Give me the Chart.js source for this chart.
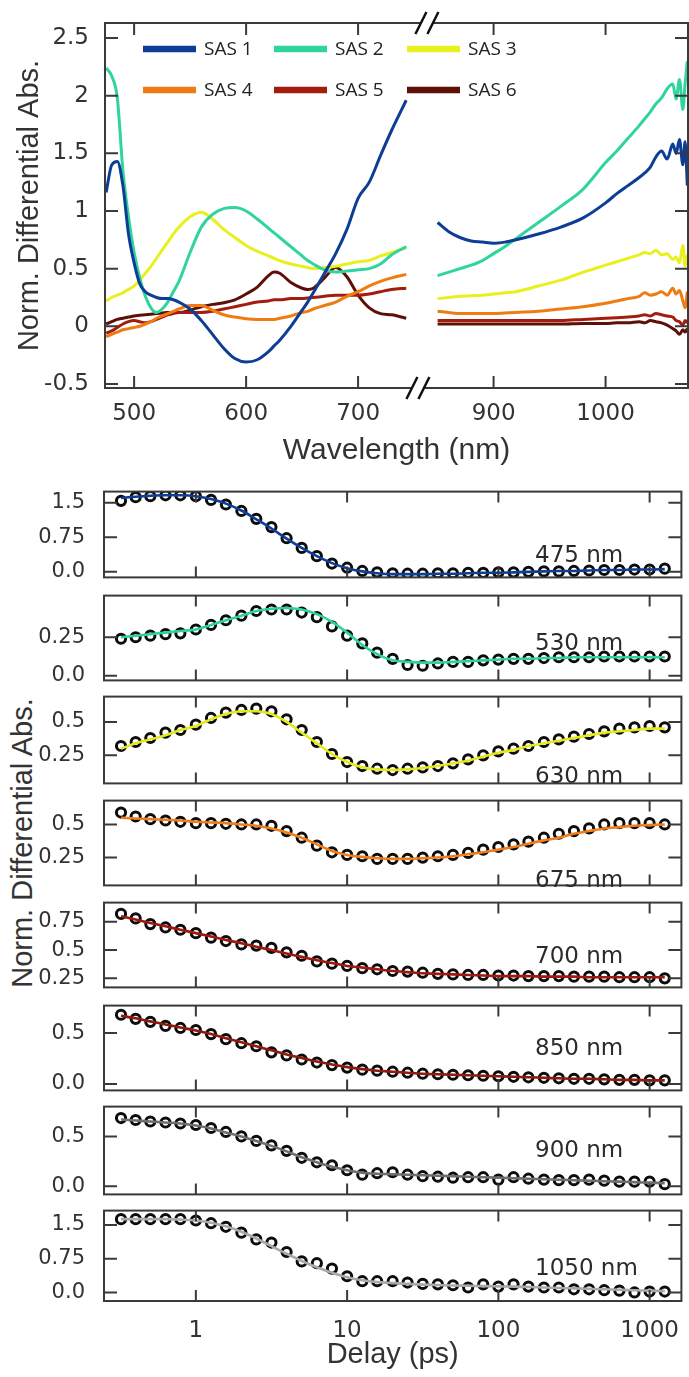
<!DOCTYPE html>
<html>
<head>
<meta charset="utf-8">
<script src="https://cdn.jsdelivr.net/npm/chart.js@4.4.1/dist/chart.umd.min.js"></script>
<style>
  html, body { margin: 0; padding: 0; background: #fff; }
  #wrap { position: relative; width: 689px; height: 1377px; overflow: hidden; }
  #wrap canvas { position: absolute; left: 0; }
  #ytitle2 {
    position: absolute; left: 22px; top: 843px;
    transform: translate(-50%, -50%) rotate(-90deg);
    font: 29px "Liberation Sans", Arial, sans-serif; color: #333; white-space: nowrap;
  }
</style>
</head>
<body>
<div id="wrap">
  <canvas id="spectra" width="689" height="475" style="top:0px"></canvas>
  <div id="ytitle2">Norm. Differential Abs.</div>
</div>
<script>
// ---- species associated spectra (top panel) ----
const wavelengths = [475,480,485,490,495,500,505,510,515,520,525,530,535,540,550,560,570,580,590,600,610,620,625,630,640,650,655,660,670,680,690,700,710,720,730,743,
                     850,860,870,880,890,900,910,920,940,960,980,1000,1010,1020,1030,1035,1040,1045,1050,1055,1060,1063,1066,1069,1071,1073];
const sasLabels = ['SAS 1', 'SAS 2', 'SAS 3', 'SAS 4', 'SAS 5', 'SAS 6'];
const sas1 = [1.16,1.40,1.43,1.22,0.80,0.55,0.37,0.30,0.27,0.25,0.24,0.24,0.23,0.21,0.15,0.05,-0.07,-0.19,-0.28,-0.31,-0.29,-0.22,-0.17,-0.12,0.0,0.14,0.21,0.29,0.46,0.63,0.84,1.11,1.25,1.48,1.70,1.96,
              0.90,0.82,0.77,0.74,0.73,0.72,0.73,0.75,0.80,0.86,0.94,1.07,1.15,1.22,1.29,1.33,1.38,1.47,1.52,1.45,1.58,1.50,1.62,1.40,1.60,1.22];
const sas2 = [2.24,2.17,1.98,1.35,0.95,0.64,0.42,0.26,0.16,0.12,0.15,0.21,0.30,0.39,0.64,0.86,0.97,1.02,1.03,1.00,0.93,0.85,0.81,0.77,0.69,0.61,0.57,0.54,0.49,0.47,0.48,0.49,0.50,0.54,0.62,0.69,
              0.44,0.47,0.50,0.53,0.57,0.63,0.69,0.76,0.90,1.04,1.19,1.42,1.52,1.63,1.74,1.80,1.86,1.93,1.98,2.06,2.10,1.97,2.14,1.88,2.10,2.30];
const sas3 = [0.22,0.25,0.27,0.29,0.32,0.35,0.40,0.46,0.52,0.59,0.66,0.73,0.80,0.86,0.95,0.99,0.93,0.84,0.77,0.70,0.65,0.61,0.59,0.57,0.54,0.52,0.51,0.50,0.51,0.52,0.54,0.56,0.57,0.61,0.64,0.68,
              0.24,0.25,0.26,0.265,0.27,0.28,0.29,0.30,0.35,0.40,0.47,0.53,0.56,0.59,0.62,0.64,0.63,0.66,0.62,0.63,0.58,0.60,0.55,0.70,0.52,0.62];
const sas4 = [-0.09,-0.07,-0.05,-0.03,-0.02,-0.01,0.0,0.02,0.04,0.07,0.09,0.11,0.13,0.15,0.18,0.18,0.14,0.10,0.08,0.065,0.06,0.06,0.06,0.07,0.09,0.12,0.13,0.15,0.18,0.21,0.26,0.30,0.35,0.39,0.42,0.45,
              0.13,0.12,0.11,0.11,0.11,0.11,0.115,0.12,0.13,0.15,0.17,0.20,0.22,0.24,0.26,0.29,0.27,0.28,0.30,0.27,0.33,0.28,0.31,0.22,0.16,0.30];
const sas5 = [-0.06,-0.04,-0.01,0.02,0.04,0.05,0.04,0.03,0.04,0.06,0.08,0.10,0.11,0.12,0.12,0.12,0.13,0.15,0.17,0.19,0.21,0.22,0.23,0.23,0.24,0.24,0.245,0.25,0.26,0.27,0.27,0.27,0.28,0.30,0.32,0.33,
              0.05,0.05,0.05,0.05,0.05,0.05,0.05,0.05,0.05,0.05,0.06,0.07,0.075,0.08,0.09,0.10,0.09,0.11,0.10,0.09,0.08,0.05,0.04,0.01,0.05,0.03];
const sas6 = [0.02,0.04,0.06,0.07,0.08,0.09,0.095,0.10,0.105,0.11,0.115,0.12,0.12,0.12,0.14,0.17,0.19,0.205,0.23,0.28,0.34,0.44,0.47,0.46,0.38,0.33,0.32,0.33,0.42,0.51,0.43,0.27,0.16,0.11,0.10,0.07,
              0.02,0.02,0.02,0.02,0.02,0.02,0.02,0.02,0.02,0.02,0.025,0.025,0.03,0.03,0.04,0.03,0.05,0.04,0.03,0.01,-0.02,-0.04,-0.07,-0.03,-0.05,-0.02];
const nmTicks = [500, 600, 700, 900, 1000];
const sasTicks = [-0.5, 0, 0.5, 1, 1.5, 2, 2.5];

// ---- kinetic traces (bottom panels) ----
const delays = [0.32,0.4,0.5,0.63,0.79,1,1.26,1.58,2,2.51,3.16,3.98,5.01,6.31,7.94,10,12.6,15.8,20,25.1,31.6,39.8,50.1,63.1,79.4,100,126,158,200,251,316,398,501,631,794,1000,1259];
const delayTicks = [1, 10, 100, 1000];
const kin475 = [1.54,1.62,1.64,1.66,1.66,1.64,1.56,1.46,1.32,1.15,0.97,0.73,0.52,0.34,0.18,0.09,0.02,-0.01,-0.03,-0.04,-0.04,-0.03,-0.03,-0.02,-0.02,-0.01,-0.01,0,0.01,0.01,0.02,0.03,0.04,0.04,0.05,0.05,0.07];
const fit475 = [1.60,1.63,1.65,1.66,1.66,1.64,1.58,1.48,1.33,1.14,0.94,0.72,0.52,0.34,0.19,0.08,0.01,-0.03,-0.05,-0.05,-0.05,-0.04,-0.04,-0.03,-0.02,-0.02,-0.01,0,0.01,0.02,0.02,0.03,0.04,0.04,0.05,0.05,0.06];
const kin530 = [0.24,0.25,0.26,0.27,0.275,0.30,0.33,0.36,0.39,0.42,0.43,0.43,0.41,0.38,0.32,0.26,0.21,0.15,0.11,0.07,0.065,0.08,0.09,0.09,0.10,0.105,0.11,0.11,0.115,0.12,0.12,0.12,0.125,0.125,0.125,0.125,0.125];
const fit530 = [0.25,0.26,0.27,0.28,0.29,0.30,0.33,0.36,0.39,0.42,0.435,0.44,0.43,0.40,0.35,0.28,0.20,0.14,0.10,0.09,0.085,0.085,0.09,0.095,0.10,0.105,0.11,0.11,0.115,0.115,0.12,0.12,0.12,0.12,0.12,0.12,0.12];
const kin630 = [0.32,0.35,0.38,0.42,0.44,0.48,0.53,0.57,0.59,0.60,0.58,0.52,0.44,0.35,0.26,0.20,0.17,0.15,0.14,0.15,0.16,0.17,0.19,0.22,0.25,0.28,0.30,0.32,0.35,0.37,0.39,0.41,0.43,0.45,0.46,0.47,0.46];
const fit630 = [0.30,0.34,0.37,0.40,0.44,0.47,0.52,0.56,0.58,0.58,0.56,0.50,0.42,0.34,0.26,0.20,0.16,0.145,0.14,0.145,0.155,0.17,0.19,0.21,0.24,0.27,0.29,0.32,0.34,0.36,0.38,0.40,0.42,0.43,0.44,0.45,0.45];
const kin675 = [0.59,0.56,0.54,0.53,0.52,0.51,0.51,0.505,0.50,0.50,0.49,0.45,0.40,0.34,0.29,0.27,0.26,0.24,0.24,0.24,0.25,0.26,0.27,0.285,0.31,0.33,0.35,0.37,0.40,0.43,0.45,0.47,0.50,0.51,0.51,0.51,0.50];
const fit675 = [0.55,0.545,0.54,0.535,0.53,0.52,0.515,0.51,0.50,0.49,0.47,0.44,0.40,0.35,0.30,0.27,0.255,0.245,0.24,0.24,0.245,0.25,0.26,0.275,0.29,0.31,0.33,0.355,0.38,0.40,0.43,0.45,0.47,0.48,0.49,0.495,0.50];
const kin700 = [0.82,0.78,0.73,0.70,0.68,0.65,0.61,0.58,0.55,0.54,0.52,0.48,0.45,0.40,0.38,0.36,0.34,0.33,0.315,0.31,0.30,0.29,0.285,0.28,0.28,0.275,0.275,0.27,0.27,0.27,0.265,0.265,0.265,0.26,0.26,0.26,0.25];
const fit700 = [0.80,0.77,0.74,0.71,0.68,0.65,0.62,0.59,0.56,0.53,0.50,0.47,0.44,0.41,0.385,0.36,0.345,0.33,0.315,0.305,0.295,0.29,0.285,0.28,0.275,0.27,0.27,0.27,0.265,0.265,0.265,0.26,0.26,0.26,0.26,0.26,0.26];
const kin850 = [0.68,0.64,0.61,0.57,0.55,0.53,0.49,0.44,0.40,0.37,0.31,0.28,0.24,0.21,0.185,0.16,0.14,0.13,0.12,0.11,0.10,0.095,0.09,0.085,0.08,0.075,0.07,0.065,0.06,0.055,0.05,0.05,0.045,0.04,0.04,0.035,0.035];
const fit850 = [0.67,0.645,0.615,0.585,0.555,0.525,0.49,0.45,0.41,0.37,0.33,0.29,0.255,0.22,0.19,0.165,0.145,0.13,0.12,0.11,0.10,0.095,0.09,0.085,0.08,0.075,0.07,0.065,0.06,0.055,0.05,0.05,0.045,0.04,0.04,0.035,0.035];
const kin900 = [0.685,0.665,0.65,0.64,0.63,0.615,0.585,0.545,0.50,0.455,0.41,0.355,0.285,0.24,0.21,0.16,0.115,0.13,0.14,0.115,0.10,0.095,0.085,0.09,0.09,0.065,0.09,0.075,0.065,0.06,0.06,0.065,0.055,0.045,0.045,0.045,0.02];
const fit900 = [0.67,0.66,0.65,0.64,0.63,0.61,0.58,0.54,0.50,0.455,0.405,0.35,0.29,0.24,0.195,0.16,0.135,0.125,0.12,0.115,0.11,0.105,0.10,0.095,0.09,0.085,0.08,0.075,0.07,0.065,0.06,0.055,0.05,0.045,0.04,0.035,0.03];
const kin1050 = [1.63,1.63,1.63,1.63,1.63,1.60,1.54,1.46,1.33,1.18,1.11,0.90,0.69,0.65,0.53,0.36,0.25,0.25,0.25,0.22,0.19,0.18,0.16,0.11,0.18,0.13,0.18,0.13,0.11,0.11,0.07,0.07,0.05,0.04,0.0,0.02,0.02];
const fit1050 = [1.63,1.63,1.63,1.63,1.62,1.60,1.55,1.47,1.35,1.20,1.03,0.86,0.70,0.56,0.44,0.34,0.27,0.23,0.21,0.19,0.175,0.165,0.155,0.15,0.14,0.135,0.13,0.12,0.11,0.10,0.09,0.08,0.07,0.06,0.05,0.04,0.03];

const FRAME = '#3a3a3a';
const TXT = '#333';
Chart.defaults.font.family = '"DejaVu Sans", sans-serif';

// draws the box round the plot and the inward tick marks
const frame = {
  id: 'frame',
  afterDatasetsDraw(chart, args, o) {
    const {ctx, chartArea: a, scales} = chart;
    ctx.save();
    ctx.strokeStyle = FRAME;
    ctx.lineWidth = 2;
    ctx.strokeRect(a.left, a.top, a.right - a.left, a.bottom - a.top);
    ctx.beginPath();
    o.xTicks.forEach(v => {
      const px = scales.x.getPixelForValue(v);
      ctx.moveTo(px, a.top); ctx.lineTo(px, a.top + o.xLen);
      ctx.moveTo(px, a.bottom); ctx.lineTo(px, a.bottom - o.xLen);
    });
    o.yTicks.forEach(v => {
      const py = scales.y.getPixelForValue(v);
      ctx.moveTo(a.left, py); ctx.lineTo(a.left + o.yLen, py);
      ctx.moveTo(a.right, py); ctx.lineTo(a.right - o.yLen, py);
    });
    ctx.stroke();
    ctx.restore();
  }
};

// the "//" marks where the wavelength axis is cut
const axisBreak = {
  id: 'axisBreak',
  afterDraw(chart, args, o) {
    const {ctx, chartArea: a} = chart;
    const xb = chart.scales.x.getPixelForValue(o.at);
    ctx.save();
    [[a.top, 5], [a.bottom, -4]].forEach(([yy, dx]) => {
      const cx = xb + dx;
      ctx.fillStyle = '#fff';
      ctx.fillRect(cx - 6, yy - 2, 12, 4);
      ctx.strokeStyle = '#111';
      ctx.lineWidth = 2.5;
      ctx.beginPath();
      [-6, 6].forEach(off => {
        ctx.moveTo(cx + off - 5.5, yy + 11);
        ctx.lineTo(cx + off + 5.5, yy - 11);
      });
      ctx.stroke();
    });
    ctx.restore();
  }
};

// legend sitting inside the plot, 3 columns x 2 rows
const legendInside = {
  id: 'legendInside',
  afterDraw(chart, args, o) {
    const ctx = chart.ctx;
    ctx.save();
    ctx.font = '19px "Open Sans", sans-serif';
    ctx.textBaseline = 'middle';
    chart.data.datasets.forEach((ds, i) => {
      const x0 = o.cols[i % 3], y0 = o.rows[Math.floor(i / 3)];
      ctx.strokeStyle = ds.borderColor;
      ctx.lineWidth = 6.5;
      ctx.beginPath(); ctx.moveTo(x0, y0); ctx.lineTo(x0 + 53, y0); ctx.stroke();
      ctx.fillStyle = '#222';
      ctx.fillText(ds.label, x0 + 61, y0 + 1);
    });
    ctx.restore();
  }
};

// "475 nm" etc. inside each kinetic panel
const panelLabel = {
  id: 'panelLabel',
  afterDraw(chart, args, o) {
    const ctx = chart.ctx;
    ctx.save();
    ctx.font = '23px "DejaVu Sans", sans-serif';
    ctx.fillStyle = '#2b2b2b';
    ctx.textBaseline = 'middle';
    ctx.fillText(o.text, 535, chart.chartArea.top + o.dy);
    ctx.restore();
  }
};

// keep the plot box exactly where the figure has it
const noEdgePadding = ax => { ax.paddingTop = 0; ax.paddingBottom = 0; ax.paddingLeft = 0; ax.paddingRight = 0; };

// ---- top chart: two wavelength windows on one axis, the gap cut out ----
const GAP = 79;
const toAxis = wl => wl > 760 ? wl - GAP : wl;
function spectrum(vals) {
  const pts = [];
  wavelengths.forEach((wl, i) => {
    if (i > 0 && wavelengths[i - 1] < 760 && wl > 760) pts.push({x: 757, y: null});
    pts.push({x: toAxis(wl), y: vals[i]});
  });
  return pts;
}
const sasColors = ['#0d3d94', '#2fd59c', '#e8f01e', '#ef7c12', '#a31c0e', '#5c1006'];
const sasValues = [sas1, sas2, sas3, sas4, sas5, sas6];

new Chart(document.getElementById('spectra'), {
  type: 'line',
  data: {
    datasets: sasValues.map((v, i) => ({
      label: sasLabels[i],
      data: spectrum(v),
      borderColor: sasColors[i],
      borderWidth: 3,
      pointRadius: 0,
      cubicInterpolationMode: 'monotone',
      fill: false
    }))
  },
  options: {
    responsive: false,
    animation: false,
    layout: {padding: {top: 23, right: 1, left: 0, bottom: 0}},
    plugins: {
      legend: {display: false},
      tooltip: {enabled: false},
      frame: {xTicks: nmTicks.map(toAxis), yTicks: sasTicks, xLen: 12, yLen: 13},
      axisBreak: {at: 757},
      legendInside: {cols: [143, 274, 407], rows: [49, 90]}
    },
    scales: {
      x: {
        type: 'linear', min: 474, max: 994.6,
        afterBuildTicks: ax => { ax.ticks = nmTicks.map(v => ({value: toAxis(v)})); },
        afterFit: ax => { ax.height = 87; noEdgePadding(ax); },
        grid: {display: false}, border: {display: false},
        ticks: {autoSkip: false, maxRotation: 0, padding: 4, color: TXT, font: {size: 23},
                callback: v => String(v > 760 ? v + GAP : v)},
        title: {display: true, text: 'Wavelength (nm)', color: TXT,
                font: {family: '"Liberation Sans", Arial, sans-serif', size: 30},
                padding: {top: 0, bottom: 6}}
      },
      y: {
        min: -0.535, max: 2.63,
        afterBuildTicks: ax => { ax.ticks = sasTicks.map(v => ({value: v})); },
        afterFit: ax => { ax.width = 105; noEdgePadding(ax); },
        grid: {display: false}, border: {display: false},
        ticks: {padding: 8, color: TXT, font: {size: 23}, callback: v => String(v)},
        title: {display: true, text: 'Norm. Differential Abs.', color: TXT,
                font: {family: '"Liberation Sans", Arial, sans-serif', size: 29},
                padding: {top: 13, bottom: 0}}
      }
    }
  },
  plugins: [frame, legendInside, axisBreak]
});

// ---- kinetic panels ----
const panels = [
  {text: '475 nm',  data: kin475,  fit: fit475,  color: '#0e3f95', min: -0.12,  max: 1.74, ticks: [0, 0.75, 1.5],     top: 488,  bottom: 581,  dy: 64},
  {text: '530 nm',  data: kin530,  fit: fit530,  color: '#2ed39b', min: -0.03,  max: 0.52, ticks: [0, 0.25],          top: 592,  bottom: 684,  dy: 48},
  {text: '630 nm',  data: kin630,  fit: fit630,  color: '#e4ea1a', min: 0.04,   max: 0.69, ticks: [0.25, 0.5],        top: 693,  bottom: 787,  dy: 80},
  {text: '675 nm',  data: kin675,  fit: fit675,  color: '#ef7d1b', min: 0.04,   max: 0.68, ticks: [0.25, 0.5],        top: 797,  bottom: 889,  dy: 80},
  {text: '700 nm',  data: kin700,  fit: fit700,  color: '#a0180f', min: 0.17,   max: 0.92, ticks: [0.25, 0.5, 0.75],  top: 899,  bottom: 991,  dy: 54},
  {text: '850 nm',  data: kin850,  fit: fit850,  color: '#8e1a10', min: -0.064, max: 0.77, ticks: [0, 0.5],           top: 1002, bottom: 1094, dy: 43},
  {text: '900 nm',  data: kin900,  fit: fit900,  color: '#6f6f6f', min: -0.083, max: 0.80, ticks: [0, 0.5],           top: 1103, bottom: 1198, dy: 44},
  {text: '1050 nm', data: kin1050, fit: fit1050, color: '#a9a9a9', min: -0.19,  max: 1.82, ticks: [0, 0.75, 1.5],     top: 1207, bottom: 1301, dy: 58}
];

const wrap = document.getElementById('wrap');
panels.forEach((p, i) => {
  const last = i === panels.length - 1;
  const top = p.top - 4;
  const h = last ? 1377 - top : (p.bottom - p.top) + 8;
  const cv = document.createElement('canvas');
  cv.width = 689; cv.height = h; cv.style.top = top + 'px';
  wrap.appendChild(cv);

  new Chart(cv, {
    type: 'line',
    data: {
      datasets: [
        {data: delays.map((t, k) => ({x: t, y: p.fit[k]})), borderColor: p.color, borderWidth: 2.6,
         pointRadius: 0, cubicInterpolationMode: 'monotone', fill: false},
        {data: delays.map((t, k) => ({x: t, y: p.data[k]})), showLine: false, pointRadius: 4.6,
         pointBorderWidth: 3, pointBorderColor: '#0c0c0c', pointBackgroundColor: 'rgba(0,0,0,0)'}
      ]
    },
    options: {
      responsive: false,
      animation: false,
      layout: {padding: {top: 4, right: 1, left: 0, bottom: last ? 0 : 4}},
      plugins: {
        legend: {display: false},
        tooltip: {enabled: false},
        frame: {xTicks: delayTicks, yTicks: p.ticks, xLen: 11, yLen: 13},
        panelLabel: {text: p.text, dy: p.dy}
      },
      scales: {
        x: {
          type: 'logarithmic', min: 0.247, max: 1622, display: last,
          afterBuildTicks: ax => { ax.ticks = delayTicks.map(v => ({value: v})); },
          afterFit: ax => { ax.height = last ? h - 4 - (p.bottom - p.top) : 0; noEdgePadding(ax); },
          grid: {display: false}, border: {display: false},
          ticks: {autoSkip: false, maxRotation: 0, padding: 8, color: TXT, font: {size: 23},
                  callback: v => String(v)},
          title: {display: last, text: 'Delay (ps)', color: TXT,
                  font: {family: '"Liberation Sans", Arial, sans-serif', size: 29},
                  padding: {top: 0, bottom: 5}}
        },
        y: {
          min: p.min, max: p.max,
          afterBuildTicks: ax => { ax.ticks = p.ticks.map(v => ({value: v})); },
          afterFit: ax => { ax.width = 104; noEdgePadding(ax); },
          grid: {display: false}, border: {display: false},
          ticks: {padding: 11, color: TXT, font: {size: 21},
                  callback: v => v === 0 ? '0.0' : String(v)}
        }
      }
    },
    plugins: [frame, panelLabel]
  });
});
</script>
</body>
</html>
